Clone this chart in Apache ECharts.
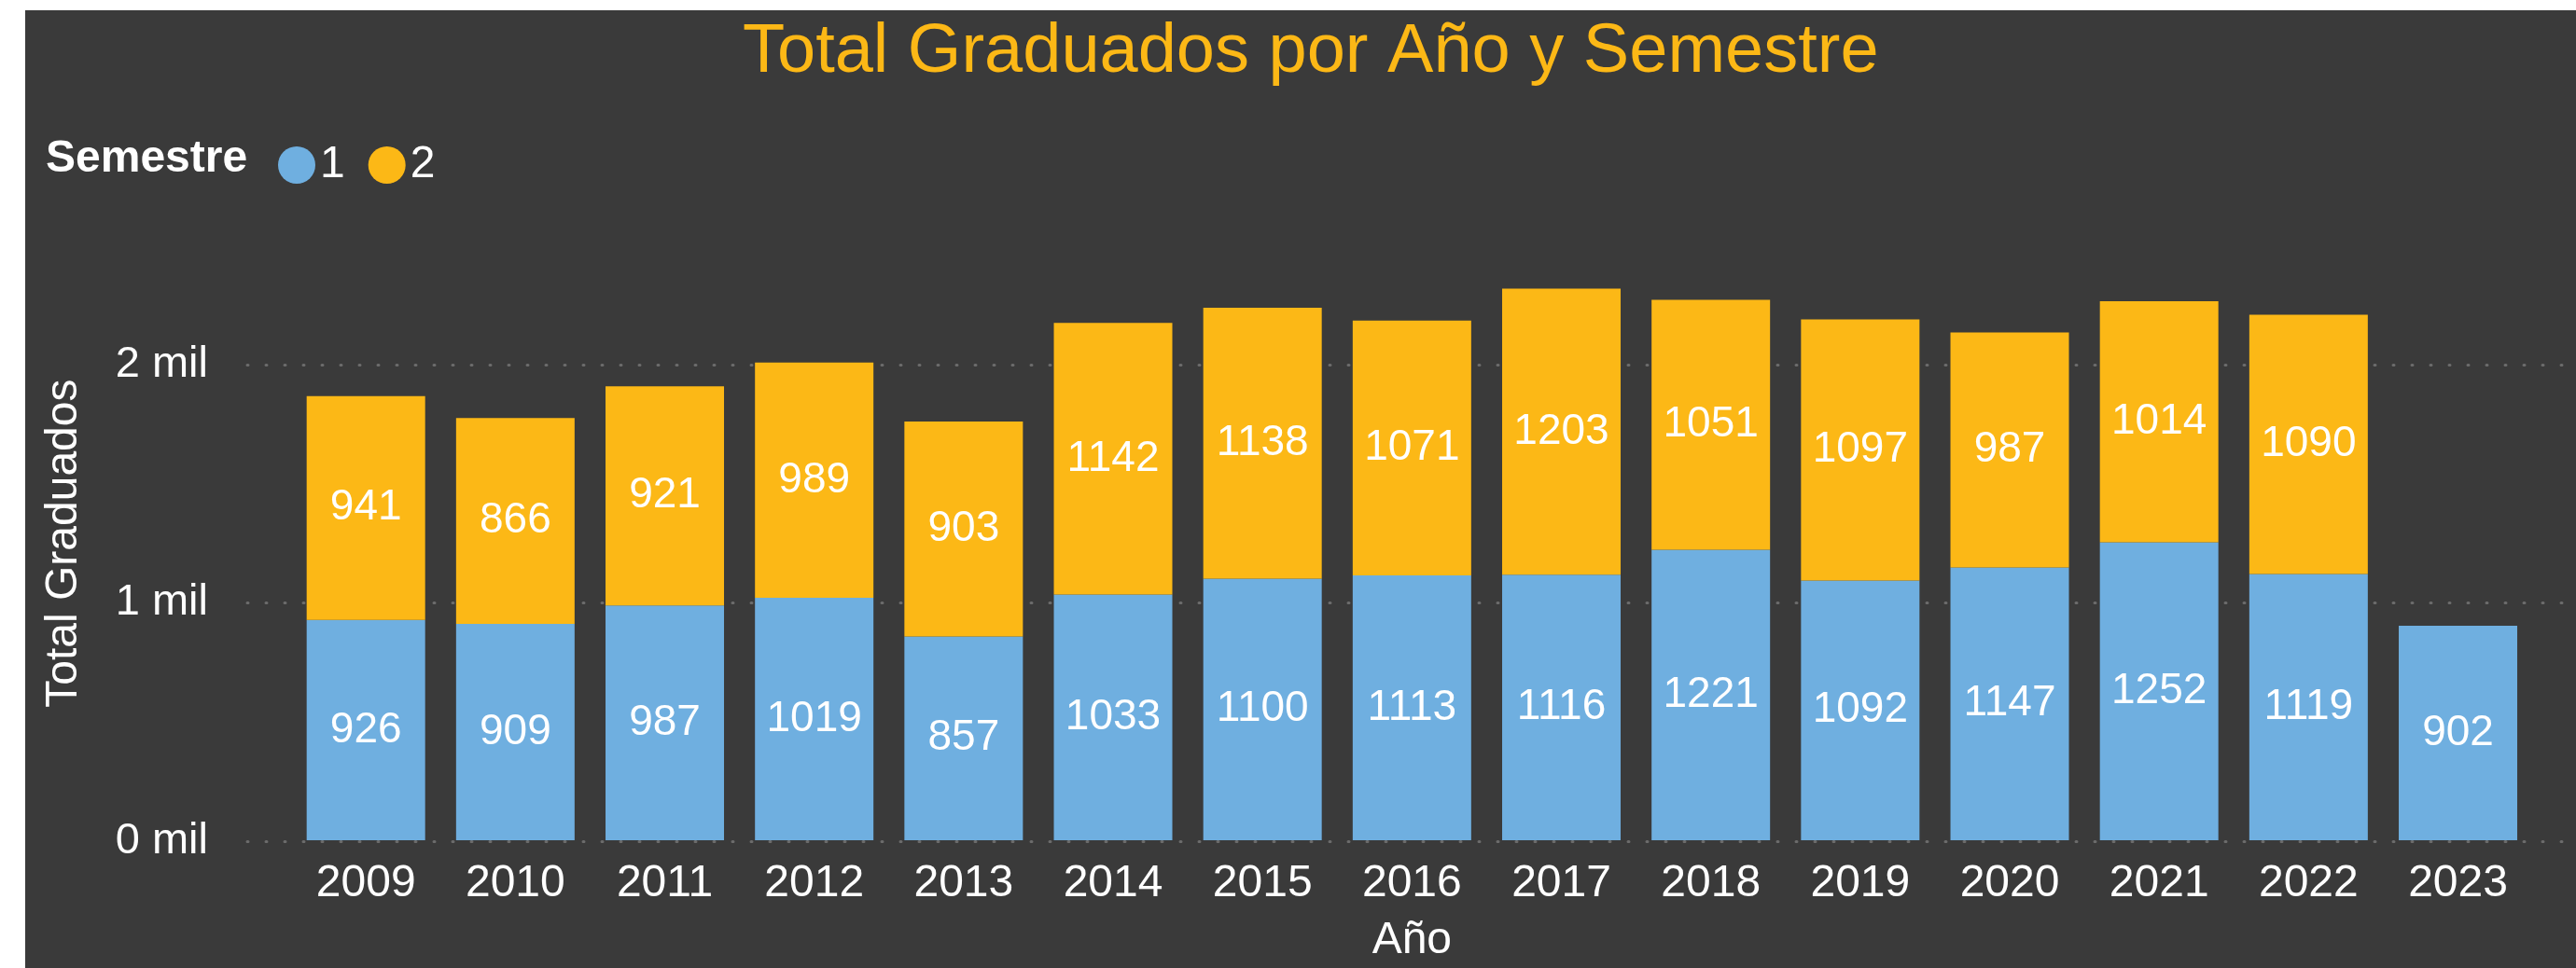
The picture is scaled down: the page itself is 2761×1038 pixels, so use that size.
<!DOCTYPE html>
<html>
<head>
<meta charset="utf-8">
<script src="https://cdn.jsdelivr.net/npm/echarts@6/dist/echarts.min.js"></script>
<style>
  html, body { margin: 0; padding: 0; background: #ffffff; width: 2761px; height: 1038px; overflow: hidden; }
  #panel { position: absolute; left: 27px; top: 11px; width: 2734px; height: 1027px; background: #3a3a3a; }
</style>
</head>
<body>
<div id="panel"></div>
<script>
// Graduates per year, split by semester
const years = ['2009', '2010', '2011', '2012', '2013', '2014', '2015', '2016',
               '2017', '2018', '2019', '2020', '2021', '2022', '2023'];
const semestre1 = [926, 909, 987, 1019, 857, 1033, 1100, 1113, 1116, 1221, 1092, 1147, 1252, 1119, 902];
const semestre2 = [941, 866, 921, 989, 903, 1142, 1138, 1071, 1203, 1051, 1097, 987, 1014, 1090, null];
const yTicks = [0, 1000, 2000];

const FONT = "'Liberation Sans', Arial, sans-serif";
const BLUE = '#6fafe0';
const GOLD = '#fcb816';
const Y_MAX = 2500;

const chart = echarts.init(document.getElementById('panel'), null, { renderer: 'canvas' });

const dataLabel = {
  show: true,
  position: 'inside',
  color: '#ffffff',
  fontFamily: FONT,
  fontSize: 46,
  formatter: p => (p.value == null ? '' : String(p.value))
};

chart.setOption({
  backgroundColor: '#3a3a3a',
  animation: false,
  title: [
    {
      text: 'Total Graduados por Año y Semestre',
      left: 769, top: 9, padding: 0,
      textStyle: { color: GOLD, fontFamily: FONT, fontSize: 74, fontWeight: 'normal' }
    },
    {
      text: 'Semestre',
      left: 22, top: 136, padding: 0,
      textStyle: { color: '#ffffff', fontFamily: FONT, fontSize: 48, fontWeight: 'bold' }
    }
  ],
  legend: {
    data: ['1', '2'],
    left: 271, top: 142, padding: 0,
    icon: 'circle',
    itemWidth: 40, itemHeight: 40, itemGap: 25,
    textStyle: { color: '#ffffff', fontFamily: FONT, fontSize: 48 }
  },
  grid: [
    // grid 0 carries the value axis with its dotted split lines
    { left: 238, right: 11, top: 252.25, bottom: 136 },
    // grid 1 holds the bars, inset from the gridline span
    { left: 285.1, right: 46.4, top: 252.25, bottom: 136 }
  ],
  xAxis: [
    { gridIndex: 0, type: 'value', min: 0, max: 1, show: false },
    {
      gridIndex: 1, type: 'category', data: years,
      axisLine: { show: false }, axisTick: { show: false },
      axisLabel: { color: '#ffffff', fontFamily: FONT, fontSize: 48, margin: 23 },
      name: 'Año', nameLocation: 'middle', nameGap: 84,
      nameTextStyle: { color: '#ffffff', fontFamily: FONT, fontSize: 48 }
    }
  ],
  yAxis: [
    {
      gridIndex: 0, type: 'value', min: yTicks[0], max: Y_MAX, interval: yTicks[1] - yTicks[0],
      axisLine: { show: false }, axisTick: { show: false },
      axisLabel: {
        color: '#ffffff', fontFamily: FONT, fontSize: 47, margin: 42, showMaxLabel: false,
        formatter: v => (yTicks.includes(v) ? (v / 1000) + ' mil' : '')
      },
      splitLine: {
        show: true, showMaxLine: false,
        lineStyle: { color: '#6c6c6c', width: 3, type: [1, 19], cap: 'round' }
      },
      name: 'Total Graduados', nameLocation: 'middle', nameGap: 172,
      nameTextStyle: { color: '#ffffff', fontFamily: FONT, fontSize: 48 }
    },
    {
      gridIndex: 1, type: 'value', min: yTicks[0], max: Y_MAX, show: false,
      splitLine: { show: false }
    }
  ],
  series: [
    {
      name: '1', type: 'bar', stack: 'total', xAxisIndex: 1, yAxisIndex: 1,
      data: semestre1, barWidth: 127,
      itemStyle: { color: BLUE }, label: dataLabel
    },
    {
      name: '2', type: 'bar', stack: 'total', xAxisIndex: 1, yAxisIndex: 1,
      data: semestre2, barWidth: 127,
      itemStyle: { color: GOLD }, label: dataLabel
    }
  ]
});
</script>
</body>
</html>
